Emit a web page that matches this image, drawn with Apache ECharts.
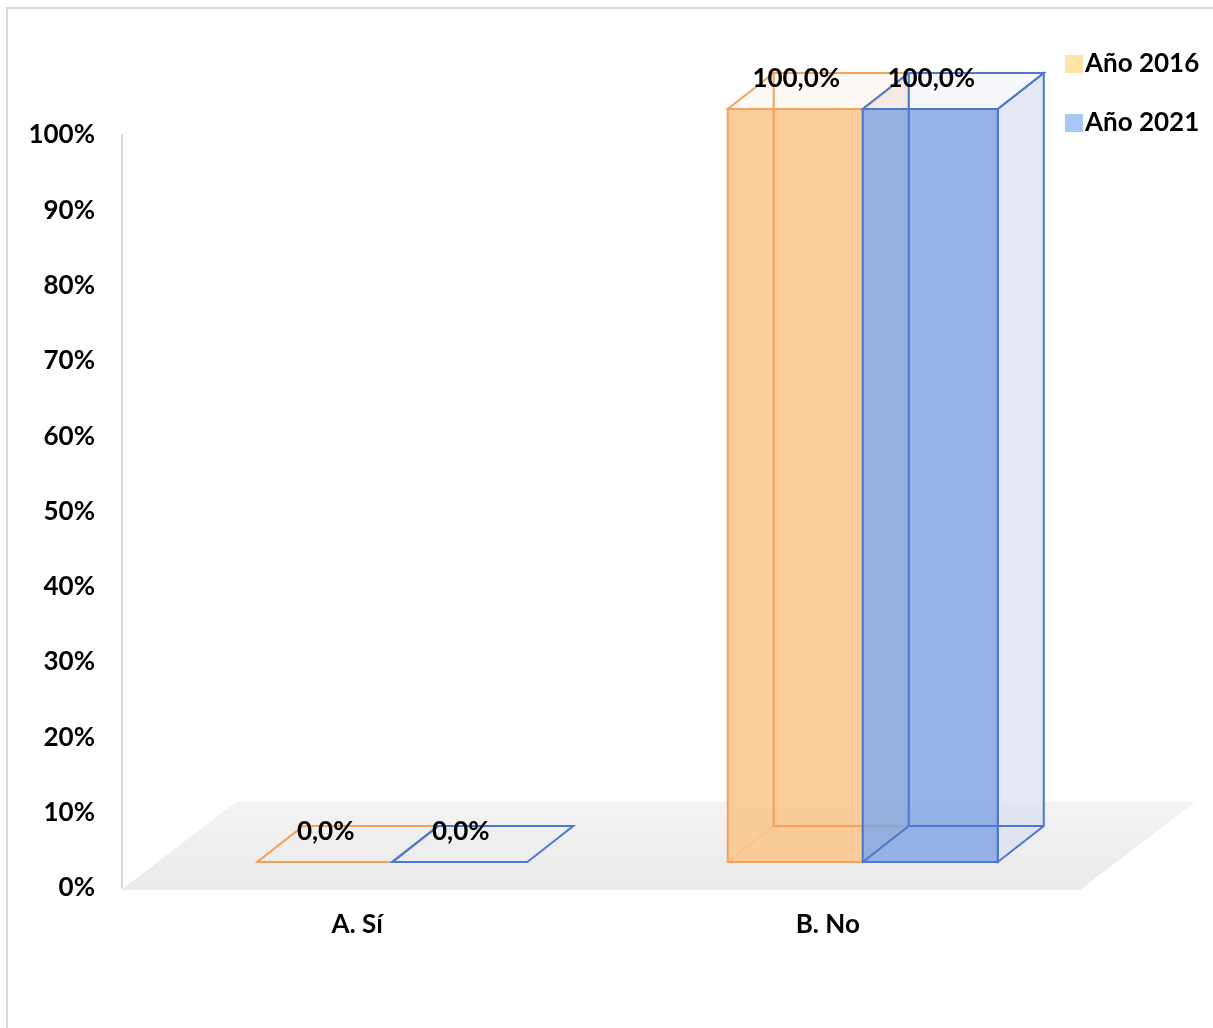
<!DOCTYPE html>
<html>
<head>
<meta charset="utf-8">
<script src="https://cdn.jsdelivr.net/npm/echarts@6/dist/echarts.min.js"></script>
<style>
html,body{margin:0;padding:0;background:#fff;}
#c{width:1213px;height:1028px;}
</style>
</head>
<body>
<div id="c"></div>
<script>
const categories = ['A. Sí', 'B. No'];
const seriesNames = ['Año 2016', 'Año 2021'];
const values2016 = [0, 1];
const values2021 = [0, 1];
const yTicks = [0, 0.1, 0.2, 0.3, 0.4, 0.5, 0.6, 0.7, 0.8, 0.9, 1];

const FONT = 'Lato, "Open Sans", sans-serif';
const WEIGHT = 'bold';
const styles = [
  { legend: '#FCE4A8', front: 'rgba(252,196,137,0.85)', side: 'rgba(250,220,190,0.5)', top: 'rgba(250,230,210,0.25)', edge: '#F4A15A' },
  { legend: '#A9C7F4', front: 'rgba(125,160,225,0.8)', side: 'rgba(215,222,238,0.7)', top: 'rgba(225,230,242,0.3)', edge: '#4D78CF' }
];

function fmtPct(v) { return (v * 100).toFixed(1).replace('.', ',') + '%'; }

function makeBarRender(sIdx) {
  return function (params, api) {
    const cat = api.value(0), val = api.value(1);
    const p0 = api.coord([cat, 0]);
    const p1 = api.coord([cat, val]);
    const band = api.size([1, 0])[0];
    const bw = band * 0.287;
    const ox = 35, oy = -26, dx = 46, dy = -36;
    const st = styles[sIdx];
    const x0 = p0[0] + ox + (sIdx === 0 ? -bw : 0);
    const x1 = x0 + bw;
    const yb = p0[1] + oy;
    const yt = p1[1] + oy;
    const lineStyle = { stroke: st.edge, lineWidth: 2, fill: null };
    const children = [];
    if (yb - yt > 0.5) {
      children.push({ type: 'polygon', shape: { points: [[x1, yb], [x1 + dx, yb + dy], [x1 + dx, yt + dy], [x1, yt]] }, style: { fill: st.side, stroke: st.edge, lineWidth: 2 } });
      children.push({ type: 'polygon', shape: { points: [[x0, yt], [x1, yt], [x1 + dx, yt + dy], [x0 + dx, yt + dy]] }, style: { fill: st.top, stroke: st.edge, lineWidth: 2 } });
      children.push({ type: 'rect', shape: { x: x0, y: yt, width: bw, height: yb - yt }, style: { fill: st.front, stroke: st.edge, lineWidth: 2 } });
    } else {
      children.push({ type: 'polygon', shape: { points: [[x0, yb], [x1, yb], [x1 + dx, yb + dy], [x0 + dx, yb + dy]] }, style: { fill: 'rgba(238,238,238,0.5)', stroke: st.edge, lineWidth: 2 } });
    }
    children.push({ type: 'polyline', shape: { points: [[x0 + dx, yt + dy], [x0 + dx, yb + dy], [x1 + dx, yb + dy]] }, style: lineStyle });
    children.push({ type: 'line', shape: { x1: x0, y1: yb, x2: x0 + dx, y2: yb + dy }, style: { stroke: st.edge, lineWidth: 2, opacity: sIdx === 0 ? 0.2 : 1 } });
    children.push({ type: 'text', style: { text: fmtPct(val), x: x0 + bw / 2 + 1, y: yt - 30, align: 'center', verticalAlign: 'middle', font: WEIGHT + ' 26px ' + FONT, fill: '#000' }, z2: 10 });
    return { type: 'group', children: children };
  };
}

function floorRender(params, api) {
  const cs = params.coordSys;
  const yb = cs.y + cs.height + 2;
  const xl = cs.x - 1, xr = cs.x + cs.width + 17;
  const dx = 115, dy = -88;
  return {
    type: 'polygon',
    shape: { points: [[xl, yb], [xr, yb], [xr + dx, yb + dy], [xl + dx, yb + dy]] },
    style: {
      fill: {
        type: 'linear', x: 0, y: 0, x2: 0, y2: 1,
        colorStops: [{ offset: 0, color: '#F3F3F3' }, { offset: 1, color: '#EAEAEA' }]
      }
    },
    silent: true
  };
}

const chart = echarts.init(document.getElementById('c'), null, { renderer: 'canvas' });
chart.setOption({
  backgroundColor: '#fff',
  animation: false,
  graphic: [{
    type: 'rect', shape: { x: 7, y: 8, width: 1230, height: 1040 },
    style: { fill: null, stroke: '#D9D9D9', lineWidth: 2 }, z: -10, silent: true
  }],
  grid: { left: 122, right: 150, top: 135, bottom: 140 },
  legend: {
    orient: 'vertical', left: 1060, top: 46,
    itemWidth: 18, itemHeight: 18, itemGap: 33, icon: 'rect',
    data: seriesNames,
    textStyle: { fontFamily: FONT, fontWeight: WEIGHT, fontSize: 26, color: '#000', padding: [0, 0, 0, -3] }
  },
  xAxis: {
    type: 'category', data: categories,
    axisLine: { show: false }, axisTick: { show: false },
    axisLabel: { margin: 24, fontFamily: FONT, fontWeight: WEIGHT, fontSize: 26, color: '#000' }
  },
  yAxis: {
    type: 'value', min: 0, max: 1, interval: 0.1,
    axisLine: { show: true, lineStyle: { color: '#D9D9D9', width: 2 } },
    axisTick: { show: false }, splitLine: { show: false },
    axisLabel: {
      margin: 27, fontFamily: FONT, fontWeight: WEIGHT, fontSize: 26, color: '#000',
      formatter: function (v) {
        const t = yTicks.find(function (k) { return Math.abs(k - v) < 1e-9; });
        return t === undefined ? '' : Math.round(t * 100) + '%';
      }
    }
  },
  series: [
    { type: 'custom', name: '_floor', renderItem: floorRender, data: [[0, 0]], z: 0, silent: true },
    { type: 'custom', name: seriesNames[0], renderItem: makeBarRender(0), itemStyle: { color: styles[0].legend },
      data: categories.map(function (c, i) { return [i, values2016[i]]; }), z: 2 },
    { type: 'custom', name: seriesNames[1], renderItem: makeBarRender(1), itemStyle: { color: styles[1].legend },
      data: categories.map(function (c, i) { return [i, values2021[i]]; }), z: 3 }
  ]
});
</script>
</body>
</html>
